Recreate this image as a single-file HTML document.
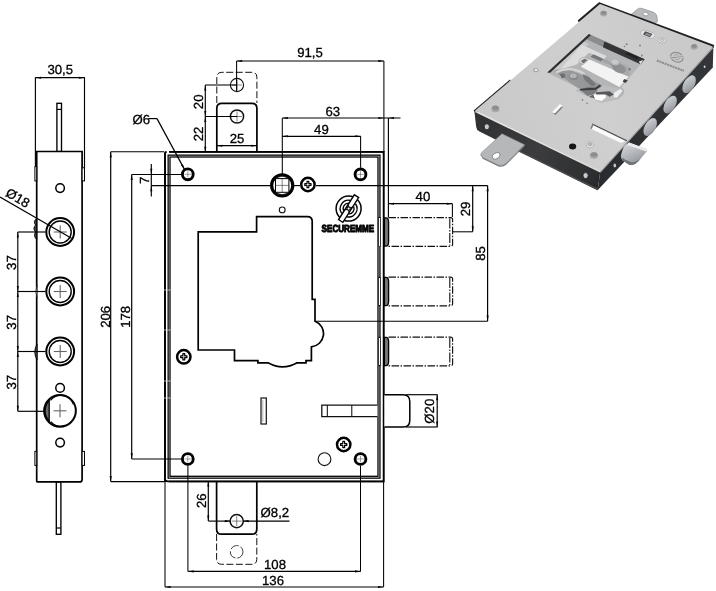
<!DOCTYPE html>
<html><head><meta charset="utf-8"><title>Lock drawing</title>
<style>
html,body{margin:0;padding:0;background:#fff;}
body{width:716px;height:591px;overflow:hidden;font-family:"Liberation Sans",sans-serif;}
svg{display:block;}
</style></head><body>
<svg width="716" height="591" viewBox="0 0 716 591" style="opacity:0.999;will-change:transform" text-rendering="geometricPrecision">
<rect width="716" height="591" fill="#fff"/>
<defs>
<linearGradient id="gTop" x1="476" y1="110" x2="713" y2="46" gradientUnits="userSpaceOnUse">
<stop offset="0" stop-color="#c9c9c9"/><stop offset="0.5" stop-color="#cfcfcf"/><stop offset="1" stop-color="#c8c8c8"/>
</linearGradient>
<linearGradient id="gLeft" x1="476" y1="120" x2="600" y2="182" gradientUnits="userSpaceOnUse">
<stop offset="0" stop-color="#303133"/><stop offset="0.5" stop-color="#3b3c3e"/><stop offset="1" stop-color="#2a2b2d"/>
</linearGradient>
<linearGradient id="gRight" x1="600" y1="182" x2="712" y2="58" gradientUnits="userSpaceOnUse">
<stop offset="0" stop-color="#2a2c2f"/><stop offset="1" stop-color="#34363a"/>
</linearGradient>
<linearGradient id="gBolt" x1="0" y1="0" x2="1" y2="1">
<stop offset="0" stop-color="#d4d6d9"/><stop offset="0.6" stop-color="#a9acb1"/><stop offset="1" stop-color="#7f8288"/>
</linearGradient>
<linearGradient id="gLatch" x1="626" y1="140" x2="640" y2="168" gradientUnits="userSpaceOnUse">
<stop offset="0" stop-color="#dcdde0"/><stop offset="0.4" stop-color="#b9bcc0"/><stop offset="1" stop-color="#85888d"/>
</linearGradient>
<filter id="soft" x="-5%" y="-5%" width="110%" height="110%"><feGaussianBlur stdDeviation="0.45"/></filter>
<filter id="soft2" x="-5%" y="-5%" width="110%" height="110%"><feGaussianBlur stdDeviation="0.7"/></filter>
</defs>
<g id="r3d" filter="url(#soft)">
<!-- back tab -->
<path d="M631,14.5 L637.5,9.2 Q639.5,7.6 642,8.4 L653.5,12.3 Q656,13.3 656.8,16 L657.5,21.5 L655,23.5 Z" fill="#b9babc" stroke="#8b8d90" stroke-width="0.7"/>
<ellipse cx="645.6" cy="14" rx="2.7" ry="1.8" fill="#fff" stroke="#77797c" stroke-width="0.6" transform="rotate(18 645.6 14)"/>
<!-- left (front-left) dark face -->
<path d="M474.3,110.8 L600.3,171.6 L597.6,190.3 L479.5,131.5 Q476.5,130 476.2,127 Z" fill="url(#gLeft)"/>
<path d="M500,141 L597.9,188.4 L597.6,190.3 L500,142.6 Z" fill="#4a4b4d"/>
<!-- right dark face -->
<path d="M600.3,171.6 L713.4,46.2 L712.8,67.5 L597.6,190.3 Z" fill="url(#gRight)"/>
<!-- left tab -->
<path d="M502,133.8 L524.6,144.8 L505.8,163.6 Q502.3,166.6 498,164.8 L483,157.6 Q479.3,155.5 481.6,152.6 Z" fill="#b6b7b9" stroke="#909295" stroke-width="0.6"/>
<path d="M481,154 L482.6,158.8 L498,166.2 Q502.5,168 506.2,164.8 L524.6,146.2 L524.6,144.8 L505.8,163.6 Q502.3,166.6 498,164.8 L483,157.6 Z" fill="#7b7d80"/>
<ellipse cx="496" cy="155.8" rx="4.2" ry="2.8" fill="#fff" stroke="#6d6f72" stroke-width="0.7" transform="rotate(-28 496.2 155.6)"/>
<!-- back rim dark (top-right edge) -->
<path d="M599.3,2.2 L714.2,45 L713.4,48 L600,5.6 Z" fill="#1f2022"/>
<!-- upper-left rim dark bits -->
<path d="M473.6,110.6 L510,79.6 L512,82.4 L476.6,113.4 Z" fill="#1f2022"/>
<path d="M577.6,20.6 L599.3,2 L601,5 L579.8,23.6 Z" fill="#1f2022"/>
<!-- top face -->
<path d="M475.2,110.6 L600,4 L712.6,46.6 L600.3,171.2 Z" fill="url(#gTop)"/>
<!-- top face bottom-left edge highlight / rim -->
<path d="M475.2,110.6 L600.3,171.2 L600.1,172.6 L475.4,112.2 Z" fill="#e4e4e4"/>
<path d="M600.3,171.2 L712.6,46.6 L712.8,48.4 L600.5,172.8 Z" fill="#a9aaac"/>

<!-- window cutout -->
<path d="M589.0,34.1 L644.7,59.3 L621.3,87.2 Q627.1,90.9 622.0,96.0 Q619.1,99.2 615.1,99.8 L601.5,102.7 L576.2,90.9 L578.0,87.9 L547.2,72.5 Z" fill="#b4b5b7"/>
<path d="M582.4,41.0 L589.0,43.9 L562.6,68.4 L553.8,69.6 L550.9,71.8 Z" fill="#c9cacb" />
<path d="M581.7,44.7 L606.6,56.1 L603.7,59.3 L589.0,52.7 L576.5,64.5 L567.0,67.4 L561.1,68.4 Z" fill="#dcdcdd" />
<path d="M593.4,54.2 L603.7,59.0 L600.7,61.5 L590.5,56.8 Z" fill="#77787a" />
<path d="M604.4,59.0 L613.9,63.4 L611.7,65.6 L601.5,61.4 Z" fill="#a2a3a5" />
<path d="M589.0,34.1 L644.7,59.3 L640.6,64.3 L603.7,47.3 L584.9,38.5 Z" fill="#8b8c8e" />
<path d="M604.4,41.4 L644.7,59.3 L640.6,64.3 L602.9,47.3 Z" fill="#343537" />
<path d="M627.1,52.0 L638.9,57.3 L637.1,59.3 L625.7,54.1 Z" fill="#222324" />
<path d="M638.9,61.5 L643.5,60.1 L640.3,64.3 Z" fill="#e8e8e8" />
<path d="M589.0,34.1 L590.8,35.3 L550.1,72.8 L547.2,72.5 Z" fill="#2c2d2f" />
<path d="M587.2,58.6 L628.6,76.6 L619.5,86.9 L581.1,66.7 Z" fill="#f3f3f3" />
<path d="M579.9,59.0 Q582.0,56.1 586.8,58.2 L589.0,59.3 L583.4,64.6 L580.2,63.1 Q577.8,61.7 579.9,59.0 Z" fill="#d8d8d9" stroke="#9a9b9d" stroke-width="0.5"/>
<path d="M580.9,61.1 L584.3,58.7 L587.5,60.1 L583.4,63.4 Z" fill="#6f7072" />
<path d="M613.9,67.8 L624.2,63.7 L630.8,68.4 L628.6,76.6 L618.3,72.5 Z" fill="#a9aaac" />
<ellipse cx="619.1" cy="68.4" rx="7.0" ry="4.4" fill="#8f9092" transform="rotate(22 619.1 68.4)"/>
<ellipse cx="615.7" cy="64.0" rx="5.0" ry="3.8" fill="#8d8e90"/>
<ellipse cx="615.4" cy="62.6" rx="4.4" ry="2.9" fill="#b7b8ba"/>
<ellipse cx="615.2" cy="61.8" rx="3.5" ry="2.1" fill="#c9cacb"/>
<path d="M624.2,79.1 L627.9,80.6 L625.4,83.1 L622.7,81.6 Z" fill="#3e3f41" />
<circle cx="629.6" cy="69.3" r="1.1" fill="#6a6b6d"/>
<path d="M553.8,71.1 L567.0,68.4 L579.5,74.0 L593.4,80.6 L602.2,85.7 L599.3,88.7 L578.0,87.9 Z" fill="#97989a" />
<path d="M556.0,72.5 Q569.9,65.2 584.6,74.0" fill="none" stroke="#d4d4d5" stroke-width="2.2"/>
<ellipse cx="573.6" cy="76.6" rx="4.4" ry="3.5" fill="#858688"/>
<ellipse cx="573.3" cy="75.8" rx="3.5" ry="2.5" fill="#b3b4b6"/>
<path d="M582.4,74.0 L589.0,76.9 L596.3,85.0 L591.9,86.5 L584.6,79.9 Z" fill="#77787a" />
<path d="M559.7,74.0 L564.1,73.3 L565.5,76.9 L561.9,78.4 Z" fill="#6c6d6f" />
<path d="M576.2,90.9 L578.0,87.9 L599.3,88.7 L602.9,85.7 L618.3,87.9 L615.1,99.8 L601.5,102.7 Z" fill="#bcbdbf" />
<path d="M579.5,89.4 L589.0,86.5 L597.8,90.1 L593.4,94.5 L587.5,96.0 Z" fill="#7a7b7d" />
<path d="M579.5,88.7 L595.6,87.5 L599.6,84.6 L601.3,85.7 L596.3,89.8 L580.2,90.4 Z" fill="#3c3d3f" />
<path d="M593.4,94.5 L605.1,93.4 L605.9,97.5 L601.5,101.1 L591.6,98.6 Z" fill="#ffffff" />
<path d="M595.6,92.3 L609.5,91.3 L613.9,94.5 L609.5,96.7 L605.9,94.5 L596.3,94.5 Z" fill="#58595b" />
<path d="M613.9,93.1 L620.5,88.7 L622.4,90.9 L616.9,97.8 L613.9,97.2 Z" fill="#efefef" />
<path d="M589.0,96.7 L593.4,94.5 L594.9,98.9 Z" fill="#69696b" />
<!-- square follower hole -->
<g transform="translate(1.6 -8.9)">
<path d="M639,40.6 Q641,38.4 644.5,39.2 L652,42 Q654.5,43.3 653.2,45.6 Q651.5,47.8 648,47.2 L640.5,44.3 Q638,43 639,40.6 Z" fill="#e2e3e5" stroke="#a2a4a7" stroke-width="0.6"/>
<path d="M643.6,40.2 L650.8,43 L648.2,46.2 L641.4,43.4 Z" fill="#4c4d50"/>
<path d="M644.6,41.7 L649.4,43.6 L648,45.2 L643.2,43.4 Z" fill="#8e9093"/>
</g>
<!-- screw near it -->
<ellipse cx="662" cy="40.4" rx="4" ry="2.7" fill="#dcdde0" stroke="#9a9c9f" stroke-width="0.5"/>
<ellipse cx="662" cy="40.2" rx="1.6" ry="1.1" fill="#f6f6f6" stroke="#6a6c6f" stroke-width="0.5"/>
<!-- corner rivets -->
<g fill="#a6a7a9">
<ellipse cx="603.6" cy="13.6" rx="3.6" ry="2.8"/><ellipse cx="694.2" cy="47" rx="3.6" ry="2.8"/>
<ellipse cx="495.4" cy="109" rx="4.1" ry="3.2"/>
<ellipse cx="535.8" cy="70.2" rx="2.8" ry="2.1"/>
</g>
<g fill="#8b8c8e">
<ellipse cx="603.6" cy="12.7" rx="2.7" ry="1.9"/><ellipse cx="694.2" cy="46" rx="2.7" ry="1.9"/>
<ellipse cx="495.4" cy="107.8" rx="3.1" ry="2.2"/>
</g>
<ellipse cx="536" cy="70" rx="1.5" ry="1.1" fill="#f4f4f4"/>
<!-- small dots -->
<g fill="#7d7f82"><circle cx="626.6" cy="44.2" r="1"/><circle cx="640" cy="45.5" r="0.9"/><circle cx="642" cy="55.5" r="0.9"/><circle cx="624.5" cy="46.5" r="0.8"/><circle cx="582.5" cy="99.8" r="0.9"/><circle cx="587" cy="103.3" r="0.8"/></g>

<!-- logo on plate -->
<g transform="translate(676.8 57.2) rotate(21)"><ellipse rx="6.4" ry="4.6" fill="none" stroke="#8f9092" stroke-width="1.3"/><ellipse rx="3.4" ry="2.3" fill="none" stroke="#9a9b9d" stroke-width="0.8"/><line x1="-6.6" y1="3.2" x2="6.6" y2="-3.2" stroke="#cbcbcb" stroke-width="2.6"/><line x1="-6" y1="2.9" x2="6" y2="-2.9" stroke="#8f9092" stroke-width="0.9"/></g>
<line x1="656.8" y1="60.4" x2="684" y2="70.8" stroke="#8f9092" stroke-width="2.1" stroke-dasharray="2.2 0.6"/>
<!-- little slot pin -->
<path d="M553.2,113.6 L560.6,106 L562.8,107.2 L555.4,115 Z" fill="#7d7e80"/>
<path d="M552.2,112 L559.8,104.2 L562.4,105.6 L554.8,113.6 Z" fill="#fbfbfb"/>
<!-- bolt slot -->
<path d="M592.5,123.5 L627.2,140.2 L621,143 L590.2,128.6 Z" fill="#fafafa"/>
<path d="M592.5,123.5 L627.2,140.2 L626.4,141.2 L591.8,124.6 Z" fill="#4a4c4f"/>
<path d="M590.2,128.6 L592.5,123.5 L593.8,124.1 L591.8,128.9 Z" fill="#77797c"/>
<!-- black hole -->
<ellipse cx="572.6" cy="146.4" rx="3.6" ry="3" fill="#141516"/>
<!-- screws -->
<ellipse cx="590" cy="144.8" rx="3.8" ry="3.2" fill="#dfe0e2" stroke="#a0a2a5" stroke-width="0.6"/>
<ellipse cx="590" cy="144.3" rx="1.8" ry="1.4" fill="#bbbdc0" stroke="#85878a" stroke-width="0.5"/>
<ellipse cx="594" cy="155.6" rx="4.2" ry="3.3" fill="#a6a7a9"/>
<ellipse cx="594" cy="154.5" rx="3.1" ry="2.2" fill="#8b8c8e"/>

<!-- holes in dark faces -->
<ellipse cx="486.8" cy="126.8" rx="2.6" ry="3" fill="#c9cacc" stroke="#1c1d1f" stroke-width="0.8"/>
<ellipse cx="585.6" cy="175.6" rx="2.6" ry="3" fill="#c9cacc" stroke="#1c1d1f" stroke-width="0.8"/>
<ellipse cx="614.8" cy="165.4" rx="1.3" ry="2" fill="#c5c6c8"/>
<ellipse cx="704.6" cy="66.8" rx="0.9" ry="1.2" fill="#d5d6d8"/>

<!-- bolts -->
<g>
<ellipse cx="689.1" cy="84.3" rx="5.4" ry="9.8" transform="rotate(30 689.1 84.3)" fill="url(#gBolt)"/>
<ellipse cx="670.1" cy="104.6" rx="5.4" ry="9.8" transform="rotate(30 670.1 104.6)" fill="url(#gBolt)"/>
<ellipse cx="650.2" cy="127" rx="5.4" ry="9.8" transform="rotate(30 650.2 127)" fill="url(#gBolt)"/>
</g>
<!-- latch -->
<path d="M622.2,151 Q623,146.8 625.6,144.7 L629.1,142.6 L646.6,148.9 Q647.4,150 646.9,151.2 L638.2,161.6 Q635.5,164.4 632.4,165 Q630,165.3 628.2,164.2 L622.4,160.2 Q620.6,158 621,155 Z" fill="url(#gLatch)"/>
<path d="M629.1,142.6 L646.6,148.9 Q647.4,150 646.4,151.6 L627,145 Z" fill="#ebecee"/>
<path d="M622.4,160.2 L628.2,164.2 Q630,165.3 632.4,165 Q635.5,164.4 638.2,161.6 L641,158.2 Q636,162.6 631.5,162.2 Q626,161 622,157.5 Z" fill="#707276"/>
</g>

<rect x="56.9" y="103.3" width="4.6" height="48.2" fill="#fff" stroke="#000" stroke-width="1.35"/>
<line x1="56.9" y1="109.4" x2="61.5" y2="109.4" stroke="#000" stroke-width="1.2" />
<rect x="56.3" y="481.9" width="4.6" height="52.4" fill="#fff" stroke="#000" stroke-width="1.35"/>
<line x1="56.3" y1="528" x2="60.9" y2="528" stroke="#000" stroke-width="1.2" />
<path d="M36.7,151.5 H82.1 V479.4 Q82.1,481.9 79.6,481.9 H37.7 Q36.7,481.9 36.7,480.9 Z" fill="#fff" stroke="#000" stroke-width="1.7"/>
<rect x="34.9" y="166.6" width="1.8" height="14.300000000000011" fill="#fff" stroke="#000" stroke-width="1"/>
<rect x="34.9" y="451.4" width="1.8" height="14.0" fill="#fff" stroke="#000" stroke-width="1"/>
<rect x="82.1" y="167.8" width="2.4" height="13.099999999999994" fill="#fff" stroke="#000" stroke-width="1"/>
<rect x="82.1" y="451.4" width="2.4" height="14.0" fill="#fff" stroke="#000" stroke-width="1"/>
<circle cx="60.1" cy="188.1" r="4.3" fill="none" stroke="#000" stroke-width="1.5" />
<circle cx="60.1" cy="387.9" r="4.3" fill="none" stroke="#000" stroke-width="1.5" />
<circle cx="60.1" cy="442.6" r="4.3" fill="none" stroke="#000" stroke-width="1.5" />
<circle cx="60.2" cy="232" r="13.9" fill="none" stroke="#000" stroke-width="2.0" />
<circle cx="60.2" cy="232" r="11.0" fill="none" stroke="#000" stroke-width="1.4" />
<line x1="53.7" y1="232" x2="66.7" y2="232" stroke="#666" stroke-width="1.1" />
<line x1="60.2" y1="225.5" x2="60.2" y2="238.5" stroke="#666" stroke-width="1.1" />
<circle cx="60.2" cy="291.5" r="13.9" fill="none" stroke="#000" stroke-width="2.0" />
<circle cx="60.2" cy="291.5" r="11.0" fill="none" stroke="#000" stroke-width="1.4" />
<line x1="53.7" y1="291.5" x2="66.7" y2="291.5" stroke="#666" stroke-width="1.1" />
<line x1="60.2" y1="285.0" x2="60.2" y2="298.0" stroke="#666" stroke-width="1.1" />
<circle cx="60.2" cy="351.5" r="13.9" fill="none" stroke="#000" stroke-width="2.0" />
<circle cx="60.2" cy="351.5" r="11.0" fill="none" stroke="#000" stroke-width="1.4" />
<line x1="53.7" y1="351.5" x2="66.7" y2="351.5" stroke="#666" stroke-width="1.1" />
<line x1="60.2" y1="345.0" x2="60.2" y2="358.0" stroke="#666" stroke-width="1.1" />
<circle cx="60" cy="410.8" r="15.85" fill="none" stroke="#000" stroke-width="2.0" />
<path d="M49.2,400.2 V421.4 A15.85,15.85 0 0 1 49.2,400.2 Z" fill="#6a6a6a" stroke="#000" stroke-width="1.3" stroke-linejoin="round"/>
<path d="M50.5,400.4 A13.4,13.4 0 0 1 73.5,404.5" fill="none" stroke="#000" stroke-width="1.1"/>
<path d="M50.8,421.6 A13.6,13.6 0 0 0 65,425.6" fill="none" stroke="#000" stroke-width="1.1"/>
<line x1="53.5" y1="410.8" x2="66.5" y2="410.8" stroke="#666" stroke-width="1.1" />
<line x1="60" y1="404.3" x2="60" y2="417.3" stroke="#666" stroke-width="1.1" />
<path d="M36.7,218.5 Q32.6,221.5 35.6,225 Q32.2,228.5 35.6,232 Q33,236 36.7,239.5 Z" fill="#444" stroke="#000" stroke-width="0.9"/>
<path d="M37,344 Q32.5,352 37,360 Z" fill="#555" stroke="#000" stroke-width="0.9"/>
<path d="M37,285 Q35,291.5 37,298" fill="#fff" stroke="#000" stroke-width="0.8"/>
<line x1="35.4" y1="77.2" x2="35.4" y2="166.6" stroke="#000" stroke-width="1.15" />
<line x1="84.5" y1="77.2" x2="84.5" y2="167.8" stroke="#000" stroke-width="1.15" />
<line x1="35.4" y1="77.7" x2="84.5" y2="77.7" stroke="#000" stroke-width="1.2" />
<polygon points="35.40,77.70 41.00,76.65 41.00,78.75" fill="#000"/>
<polygon points="84.50,77.70 78.90,78.75 78.90,76.65" fill="#000"/>
<text x="60.3" y="74" font-family="Liberation Sans, sans-serif" font-size="13.2" text-anchor="middle" font-weight="normal" fill="#000" stroke="#000" stroke-width="0.3" >30,5</text>
<line x1="17.8" y1="232" x2="17.8" y2="411.3" stroke="#000" stroke-width="1.15" />
<line x1="17.8" y1="232" x2="45.4" y2="232" stroke="#000" stroke-width="1.15" />
<line x1="17.8" y1="291.5" x2="45.4" y2="291.5" stroke="#000" stroke-width="1.15" />
<line x1="17.8" y1="351.5" x2="45.4" y2="351.5" stroke="#000" stroke-width="1.15" />
<line x1="17.8" y1="411.3" x2="44" y2="411.3" stroke="#000" stroke-width="1.15" />
<polygon points="17.80,232.00 18.85,237.60 16.75,237.60" fill="#000"/>
<polygon points="17.80,291.50 16.75,285.90 18.85,285.90" fill="#000"/>
<text x="15.6" y="262.55" font-family="Liberation Sans, sans-serif" font-size="13.2" text-anchor="middle" font-weight="normal" fill="#000" stroke="#000" stroke-width="0.3" transform="rotate(-90 15.6 262.55)" >37</text>
<polygon points="17.80,291.50 18.85,297.10 16.75,297.10" fill="#000"/>
<polygon points="17.80,351.50 16.75,345.90 18.85,345.90" fill="#000"/>
<text x="15.6" y="322.3" font-family="Liberation Sans, sans-serif" font-size="13.2" text-anchor="middle" font-weight="normal" fill="#000" stroke="#000" stroke-width="0.3" transform="rotate(-90 15.6 322.3)" >37</text>
<polygon points="17.80,351.50 18.85,357.10 16.75,357.10" fill="#000"/>
<polygon points="17.80,411.30 16.75,405.70 18.85,405.70" fill="#000"/>
<text x="15.6" y="382.2" font-family="Liberation Sans, sans-serif" font-size="13.2" text-anchor="middle" font-weight="normal" fill="#000" stroke="#000" stroke-width="0.3" transform="rotate(-90 15.6 382.2)" >37</text>
<line x1="0" y1="197.1" x2="71.5" y2="238.3" stroke="#000" stroke-width="1.15" />
<text x="4.8" y="195.6" font-family="Liberation Sans, sans-serif" font-size="13.2" fill="#000" stroke="#000" stroke-width="0.3" transform="rotate(30.0 4.8 195.6)">Ø18</text>
<path d="M216.8,103 V77.3 Q216.8,72.3 221.8,72.3 H251.9 Q256.9,72.3 256.9,77.3 V103" fill="none" stroke="#111" stroke-width="1" stroke-dasharray="7 2.5"/>
<circle cx="237" cy="85" r="6.6" fill="none" stroke="#111" stroke-width="1.1" />
<line x1="232" y1="85" x2="242" y2="85" stroke="#333" stroke-width="0.6" />
<line x1="237" y1="80" x2="237" y2="90" stroke="#333" stroke-width="0.6" />
<path d="M216.8,152.3 V108.3 Q216.8,103.3 221.8,103.3 H251.9 Q256.9,103.3 256.9,108.3 V152.3" fill="#fff" stroke="#000" stroke-width="1.7"/>
<circle cx="237" cy="116.5" r="6.6" fill="none" stroke="#111" stroke-width="1.5" />
<line x1="232" y1="116.5" x2="242" y2="116.5" stroke="#333" stroke-width="0.6" />
<line x1="237" y1="111.5" x2="237" y2="121.5" stroke="#333" stroke-width="0.6" />
<path d="M216.6,534 V559.3 Q216.6,564.3 221.6,564.3 H251.8 Q256.8,564.3 256.8,559.3 V534" fill="none" stroke="#111" stroke-width="1" stroke-dasharray="7 2.5"/>
<circle cx="236.7" cy="551.8" r="6.3" fill="none" stroke="#111" stroke-width="0.8" stroke-dasharray="9 2"/>
<path d="M216.6,481 V529.2 Q216.6,534.2 221.6,534.2 H251.8 Q256.8,534.2 256.8,529.2 V481" fill="#fff" stroke="#000" stroke-width="1.7"/>
<circle cx="236.7" cy="521.1" r="6.6" fill="none" stroke="#111" stroke-width="1.5" />
<line x1="231.7" y1="521.1" x2="241.7" y2="521.1" stroke="#333" stroke-width="0.6" />
<line x1="236.7" y1="516.1" x2="236.7" y2="526.1" stroke="#333" stroke-width="0.6" />
<line x1="388.4" y1="118" x2="388.4" y2="217.6" stroke="#000" stroke-width="1.15" />
<path d="M165,481.6 V153.6 Q165,152.2 166.6,151.9 M169.2,151.9 H383.6 V481.3 H169.2 M166.6,481.3 Q165,481.3 165,480" fill="none" stroke="#000" stroke-width="1.7"/>
<rect x="166" y="152.8" width="217" height="327.8" fill="#fff" stroke="none"/>
<path d="M165,481.9 V153.4 Q165,152.4 166.4,152 M169.2,151.9 H383.6 V481.3 H168.6 Q165.4,481.6 165,479.5" fill="none" stroke="#000" stroke-width="1.7"/>
<rect x="168.15" y="155.15" width="211.8" height="323" fill="none" stroke="#000" stroke-width="1.3"/>
<rect x="170" y="157" width="208" height="319.3" fill="none" stroke="#000" stroke-width="1.3"/>
<line x1="164" y1="290" x2="171.5" y2="290" stroke="#ddd" stroke-width="0.7" />
<line x1="164" y1="381" x2="171.5" y2="381" stroke="#ddd" stroke-width="0.7" />
<line x1="164" y1="398" x2="171.5" y2="398" stroke="#ddd" stroke-width="0.7" />
<line x1="164" y1="330" x2="171.5" y2="330" stroke="#ddd" stroke-width="0.7" />
<path d="M388.5,217.6 H450.6 Q452.6,217.6 452.6,219.6 V244.3 Q452.6,246.3 450.6,246.3 H388.5" fill="#fff" stroke="#111" stroke-width="1.15" stroke-dasharray="7.5 1.5 1.5 1.5"/>
<line x1="449.8" y1="218.4" x2="449.8" y2="245.5" stroke="#111" stroke-width="1.1" stroke-dasharray="10 1.5 1.5 1.5"/>
<path d="M384.4,217.79999999999998 H386 Q388.6,217.79999999999998 388.6,222.1 V241.8 Q388.6,246.10000000000002 386,246.10000000000002 H384.4 Z" fill="#777" stroke="#000" stroke-width="1.3"/>
<rect x="378.7" y="217.6" width="1.6" height="28.700000000000017" fill="#fff" stroke="#000" stroke-width="0.6"/>
<path d="M388.5,277.1 H450.6 Q452.6,277.1 452.6,279.1 V303.8 Q452.6,305.8 450.6,305.8 H388.5" fill="#fff" stroke="#111" stroke-width="1.15" stroke-dasharray="7.5 1.5 1.5 1.5"/>
<line x1="449.8" y1="277.90000000000003" x2="449.8" y2="305.0" stroke="#111" stroke-width="1.1" stroke-dasharray="10 1.5 1.5 1.5"/>
<path d="M384.4,277.3 H386 Q388.6,277.3 388.6,281.6 V301.3 Q388.6,305.6 386,305.6 H384.4 Z" fill="#777" stroke="#000" stroke-width="1.3"/>
<rect x="378.7" y="277.1" width="1.6" height="28.69999999999999" fill="#fff" stroke="#000" stroke-width="0.6"/>
<path d="M388.5,337.1 H450.6 Q452.6,337.1 452.6,339.1 V363.8 Q452.6,365.8 450.6,365.8 H388.5" fill="#fff" stroke="#111" stroke-width="1.15" stroke-dasharray="7.5 1.5 1.5 1.5"/>
<line x1="449.8" y1="337.90000000000003" x2="449.8" y2="365.0" stroke="#111" stroke-width="1.1" stroke-dasharray="10 1.5 1.5 1.5"/>
<path d="M384.4,337.3 H386 Q388.6,337.3 388.6,341.6 V361.3 Q388.6,365.6 386,365.6 H384.4 Z" fill="#777" stroke="#000" stroke-width="1.3"/>
<rect x="378.7" y="337.1" width="1.6" height="28.69999999999999" fill="#fff" stroke="#000" stroke-width="0.6"/>
<path d="M384.4,394.7 H403.2 Q409.8,394.7 409.8,401.5 V420.2 Q409.8,427 403.2,427 H384.4" fill="#fff" stroke="#000" stroke-width="1.5"/>
<line x1="406" y1="394.7" x2="437.6" y2="394.7" stroke="#000" stroke-width="1.15" />
<line x1="406" y1="427" x2="437.6" y2="427" stroke="#000" stroke-width="1.15" />
<line x1="437.2" y1="394.7" x2="437.2" y2="427" stroke="#000" stroke-width="1.2" />
<polygon points="437.20,394.70 438.25,400.30 436.15,400.30" fill="#000"/>
<polygon points="437.20,427.00 436.15,421.40 438.25,421.40" fill="#000"/>
<text x="434.4" y="411.2" font-family="Liberation Sans, sans-serif" font-size="13.2" text-anchor="middle" font-weight="normal" fill="#000" stroke="#000" stroke-width="0.3" transform="rotate(-90 434.4 411.2)" >Ø20</text>
<path d="M198.2,231.9 H256.6 V216.6 H307.5 Q312.2,216.6 312.2,221.3 V299.3 H315 V321.3 A13.2,13.2 0 0 1 311.4,346.8 V360.6 H306 V362.8 H297.2 Q282.5,371 268,362.8 H257.9 V360.6 H234.5 V350 H198.2 Z" fill="#fff" stroke="#000" stroke-width="1.7" stroke-linejoin="miter"/>
<line x1="315" y1="321.2" x2="487.6" y2="321.2" stroke="#000" stroke-width="1.15" />
<circle cx="187.8" cy="174.3" r="5.4" fill="#fff" stroke="#000" stroke-width="2.9" />
<line x1="184.60000000000002" y1="174.3" x2="191.0" y2="174.3" stroke="#444" stroke-width="0.5" />
<line x1="187.8" y1="171.10000000000002" x2="187.8" y2="177.5" stroke="#444" stroke-width="0.5" />
<circle cx="360.5" cy="174.4" r="5.4" fill="#fff" stroke="#000" stroke-width="2.9" />
<line x1="357.3" y1="174.4" x2="363.7" y2="174.4" stroke="#444" stroke-width="0.5" />
<line x1="360.5" y1="171.20000000000002" x2="360.5" y2="177.6" stroke="#444" stroke-width="0.5" />
<circle cx="187.8" cy="459" r="5.4" fill="#fff" stroke="#000" stroke-width="2.9" />
<line x1="184.60000000000002" y1="459" x2="191.0" y2="459" stroke="#444" stroke-width="0.5" />
<line x1="187.8" y1="455.8" x2="187.8" y2="462.2" stroke="#444" stroke-width="0.5" />
<circle cx="360.5" cy="459" r="5.4" fill="#fff" stroke="#000" stroke-width="2.9" />
<line x1="357.3" y1="459" x2="363.7" y2="459" stroke="#444" stroke-width="0.5" />
<line x1="360.5" y1="455.8" x2="360.5" y2="462.2" stroke="#444" stroke-width="0.5" />
<circle cx="282.2" cy="185.4" r="10.55" fill="#fff" stroke="#000" stroke-width="3.2" />
<rect x="275.5" y="178.6" width="13.4" height="13.7" fill="#fff" stroke="#000" stroke-width="1.0"/>
<line x1="282.2" y1="178.6" x2="282.2" y2="192.3" stroke="#333" stroke-width="0.6" />
<line x1="275.5" y1="185.4" x2="288.9" y2="185.4" stroke="#333" stroke-width="0.6" />
<path d="M276.5,177.6 Q282.2,174.6 287.9,177.6 M276.5,193.2 Q282.2,196.2 287.9,193.2" fill="none" stroke="#333" stroke-width="0.6"/>
<circle cx="307.9" cy="184.5" r="6.7" fill="#fff" stroke="#000" stroke-width="2.5" />
<path d="M307.0,181.4 h1.8 v2.2 h2.2 v1.8 h-2.2 v2.2 h-1.8 v-2.2 h-2.2 v-1.8 h2.2 z" fill="#fff" stroke="#000" stroke-width="1.2" stroke-linejoin="round"/>
<circle cx="183.8" cy="356.8" r="6.7" fill="#fff" stroke="#000" stroke-width="2.5" />
<path d="M182.9,353.7 h1.8 v2.2 h2.2 v1.8 h-2.2 v2.2 h-1.8 v-2.2 h-2.2 v-1.8 h2.2 z" fill="#fff" stroke="#000" stroke-width="1.2" stroke-linejoin="round"/>
<circle cx="343.7" cy="444.5" r="6.7" fill="#fff" stroke="#000" stroke-width="2.5" />
<path d="M342.8,441.4 h1.8 v2.2 h2.2 v1.8 h-2.2 v2.2 h-1.8 v-2.2 h-2.2 v-1.8 h2.2 z" fill="#fff" stroke="#000" stroke-width="1.2" stroke-linejoin="round"/>
<circle cx="282.2" cy="209.9" r="2.9" fill="none" stroke="#111" stroke-width="1.1" />
<circle cx="324.5" cy="459.2" r="6.4" fill="none" stroke="#111" stroke-width="1.1" />
<rect x="261" y="398" width="5.3" height="26" fill="#fff" stroke="#111" stroke-width="1.2"/>
<line x1="262.8" y1="400" x2="262.8" y2="422" stroke="#666" stroke-width="0.5" />
<path d="M377.4,405.2 H321.8 V416.6 H377.4" fill="#fff" stroke="#111" stroke-width="1.3"/>
<line x1="327.3" y1="405.2" x2="327.3" y2="416.6" stroke="#000" stroke-width="1" />
<line x1="351.8" y1="405.2" x2="351.8" y2="416.6" stroke="#000" stroke-width="1" />
<g transform="translate(348.6 208.6)"><circle r="12.5" fill="#fff" stroke="#000" stroke-width="1.5"/><path d="M1.65,-8.24 A8.4,8.4 0 0 0 -6.86,4.85 M-1.65,8.24 A8.4,8.4 0 0 0 6.86,-4.85" fill="none" stroke="#000" stroke-width="1.35"/><path d="M-0.12,-5.5 A5.5,5.5 0 0 0 -5.07,2.12 M0.12,5.5 A5.5,5.5 0 0 0 5.07,-2.12" fill="none" stroke="#000" stroke-width="1.35"/><g transform="rotate(-57.5)"><rect x="-14.7" y="-2.55" width="29.4" height="5.1" fill="#fff" stroke="#000" stroke-width="1.4"/><path d="M-3.2,-2.55 L-1.6,-0.9 M-3.2,2.55 L-1.6,0.9 M3.2,-2.55 L1.6,-0.9 M3.2,2.55 L1.6,0.9" stroke="#000" stroke-width="0.9"/></g><circle r="1.7" fill="#fff" stroke="#000" stroke-width="1.1"/></g>
<text x="321.6" y="232.4" font-family="Liberation Sans, sans-serif" font-size="10.3" font-weight="bold" fill="#000" stroke="#000" stroke-width="1.0" stroke-linejoin="round" textLength="52.6" lengthAdjust="spacingAndGlyphs">SECUREMME</text>
<line x1="110.7" y1="151.8" x2="164.2" y2="151.8" stroke="#000" stroke-width="1.0499999999999998" />
<line x1="110.7" y1="481.6" x2="164.2" y2="481.6" stroke="#000" stroke-width="1.0499999999999998" />
<line x1="110.7" y1="151.8" x2="110.7" y2="481.6" stroke="#000" stroke-width="1.2" />
<polygon points="110.70,151.80 111.75,157.40 109.65,157.40" fill="#000"/>
<polygon points="110.70,481.60 109.65,476.00 111.75,476.00" fill="#000"/>
<text x="109.6" y="316.8" font-family="Liberation Sans, sans-serif" font-size="13.2" text-anchor="middle" font-weight="normal" fill="#000" stroke="#000" stroke-width="0.3" transform="rotate(-90 109.6 316.8)" >206</text>
<line x1="131.7" y1="174.4" x2="181" y2="174.4" stroke="#000" stroke-width="1.0499999999999998" />
<line x1="131.7" y1="458.9" x2="181" y2="458.9" stroke="#000" stroke-width="1.0499999999999998" />
<line x1="131.7" y1="174.4" x2="131.7" y2="458.9" stroke="#000" stroke-width="1.2" />
<polygon points="131.70,174.40 132.75,180.00 130.65,180.00" fill="#000"/>
<polygon points="131.70,458.90 130.65,453.30 132.75,453.30" fill="#000"/>
<text x="130.5" y="316.8" font-family="Liberation Sans, sans-serif" font-size="13.2" text-anchor="middle" font-weight="normal" fill="#000" stroke="#000" stroke-width="0.3" transform="rotate(-90 130.5 316.8)" >178</text>
<line x1="151.3" y1="163.9" x2="151.3" y2="196.4" stroke="#000" stroke-width="1.15" />
<polygon points="151.30,174.40 150.25,168.80 152.35,168.80" fill="#000"/>
<polygon points="151.30,185.60 152.35,191.20 150.25,191.20" fill="#000"/>
<line x1="151.3" y1="185.6" x2="270.5" y2="185.6" stroke="#000" stroke-width="1.15" />
<line x1="294" y1="185.6" x2="300" y2="185.6" stroke="#000" stroke-width="1.15" />
<line x1="315.8" y1="185.6" x2="487.6" y2="185.6" stroke="#000" stroke-width="1.15" />
<text x="149" y="180.3" font-family="Liberation Sans, sans-serif" font-size="13.2" text-anchor="middle" font-weight="normal" fill="#000" stroke="#000" stroke-width="0.3" transform="rotate(-90 149 180.3)" >7</text>
<text x="132.5" y="123.8" font-family="Liberation Sans, sans-serif" font-size="13.2" text-anchor="start" font-weight="normal" fill="#000" stroke="#000" stroke-width="0.3" >Ø6</text>
<line x1="148.5" y1="118.6" x2="157" y2="118.6" stroke="#000" stroke-width="1.2" />
<line x1="157" y1="118.6" x2="184.6" y2="169.6" stroke="#000" stroke-width="1.2" />
<polygon points="184.60,169.60 181.01,165.17 182.86,164.18" fill="#000"/>
<line x1="205.3" y1="85" x2="237" y2="85" stroke="#000" stroke-width="1.0499999999999998" />
<line x1="205.3" y1="116.5" x2="237" y2="116.5" stroke="#000" stroke-width="1.0499999999999998" />
<line x1="205.3" y1="85" x2="205.3" y2="152.3" stroke="#000" stroke-width="1.15" />
<polygon points="205.30,85.00 206.35,90.60 204.25,90.60" fill="#000"/>
<polygon points="205.30,116.50 204.25,110.90 206.35,110.90" fill="#000"/>
<polygon points="205.30,116.50 206.35,122.10 204.25,122.10" fill="#000"/>
<polygon points="205.30,152.30 204.25,146.70 206.35,146.70" fill="#000"/>
<text x="203.4" y="101.8" font-family="Liberation Sans, sans-serif" font-size="13.2" text-anchor="middle" font-weight="normal" fill="#000" stroke="#000" stroke-width="0.3" transform="rotate(-90 203.4 101.8)" >20</text>
<text x="203.4" y="134" font-family="Liberation Sans, sans-serif" font-size="13.2" text-anchor="middle" font-weight="normal" fill="#000" stroke="#000" stroke-width="0.3" transform="rotate(-90 203.4 134)" >22</text>
<line x1="216.8" y1="145.7" x2="256.9" y2="145.7" stroke="#000" stroke-width="1.2" />
<polygon points="216.80,145.70 222.40,144.65 222.40,146.75" fill="#000"/>
<polygon points="256.90,145.70 251.30,146.75 251.30,144.65" fill="#000"/>
<text x="237" y="143.3" font-family="Liberation Sans, sans-serif" font-size="13.2" text-anchor="middle" font-weight="normal" fill="#000" stroke="#000" stroke-width="0.3" >25</text>
<line x1="236.6" y1="61" x2="236.6" y2="91" stroke="#000" stroke-width="1.0499999999999998" />
<line x1="383.9" y1="61" x2="383.9" y2="152" stroke="#000" stroke-width="1.0499999999999998" />
<line x1="236.6" y1="61" x2="383.9" y2="61" stroke="#000" stroke-width="1.2" />
<polygon points="236.60,61.00 242.20,59.95 242.20,62.05" fill="#000"/>
<polygon points="383.90,61.00 378.30,62.05 378.30,59.95" fill="#000"/>
<text x="310" y="56.5" font-family="Liberation Sans, sans-serif" font-size="13.2" text-anchor="middle" font-weight="normal" fill="#000" stroke="#000" stroke-width="0.3" >91,5</text>
<line x1="282.3" y1="118" x2="282.3" y2="174" stroke="#000" stroke-width="1.0499999999999998" />
<line x1="282.3" y1="118" x2="400.5" y2="118" stroke="#000" stroke-width="1.15" />
<polygon points="282.30,118.00 287.90,116.95 287.90,119.05" fill="#000"/>
<polygon points="383.90,118.00 378.30,119.05 378.30,116.95" fill="#000"/>
<polygon points="388.40,118.00 394.00,116.95 394.00,119.05" fill="#000"/>
<text x="332.8" y="115.6" font-family="Liberation Sans, sans-serif" font-size="13.2" text-anchor="middle" font-weight="normal" fill="#000" stroke="#000" stroke-width="0.3" >63</text>
<line x1="360.6" y1="136.3" x2="360.6" y2="167.8" stroke="#000" stroke-width="1.0499999999999998" />
<line x1="282.3" y1="136.3" x2="360.8" y2="136.3" stroke="#000" stroke-width="1.2" />
<polygon points="282.30,136.30 287.90,135.25 287.90,137.35" fill="#000"/>
<polygon points="360.80,136.30 355.20,137.35 355.20,135.25" fill="#000"/>
<text x="321.4" y="133.9" font-family="Liberation Sans, sans-serif" font-size="13.2" text-anchor="middle" font-weight="normal" fill="#000" stroke="#000" stroke-width="0.3" >49</text>
<line x1="452.4" y1="203.7" x2="452.4" y2="217" stroke="#000" stroke-width="1.0499999999999998" />
<line x1="388.4" y1="203.7" x2="452.4" y2="203.7" stroke="#000" stroke-width="1.2" />
<polygon points="388.40,203.70 394.00,202.65 394.00,204.75" fill="#000"/>
<polygon points="452.40,203.70 446.80,204.75 446.80,202.65" fill="#000"/>
<text x="422.9" y="201.3" font-family="Liberation Sans, sans-serif" font-size="13.2" text-anchor="middle" font-weight="normal" fill="#000" stroke="#000" stroke-width="0.3" >40</text>
<line x1="453" y1="231.8" x2="472.7" y2="231.8" stroke="#000" stroke-width="1.0499999999999998" />
<line x1="472.7" y1="185.6" x2="472.7" y2="231.8" stroke="#000" stroke-width="1.2" />
<polygon points="472.70,185.60 473.75,191.20 471.65,191.20" fill="#000"/>
<polygon points="472.70,231.80 471.65,226.20 473.75,226.20" fill="#000"/>
<text x="470.2" y="208.9" font-family="Liberation Sans, sans-serif" font-size="13.2" text-anchor="middle" font-weight="normal" fill="#000" stroke="#000" stroke-width="0.3" transform="rotate(-90 470.2 208.9)" >29</text>
<line x1="487.6" y1="185.6" x2="487.6" y2="321.2" stroke="#000" stroke-width="1.2" />
<polygon points="487.60,185.60 488.65,191.20 486.55,191.20" fill="#000"/>
<polygon points="487.60,321.20 486.55,315.60 488.65,315.60" fill="#000"/>
<text x="485.2" y="253.5" font-family="Liberation Sans, sans-serif" font-size="13.2" text-anchor="middle" font-weight="normal" fill="#000" stroke="#000" stroke-width="0.3" transform="rotate(-90 485.2 253.5)" >85</text>
<line x1="208.3" y1="481" x2="208.3" y2="521.1" stroke="#000" stroke-width="1.2" />
<polygon points="208.30,481.00 209.35,486.60 207.25,486.60" fill="#000"/>
<polygon points="208.30,521.10 207.25,515.50 209.35,515.50" fill="#000"/>
<line x1="208.3" y1="521.1" x2="230.4" y2="521.1" stroke="#000" stroke-width="1.15" />
<polygon points="230.40,521.10 224.80,522.15 224.80,520.05" fill="#000"/>
<line x1="243" y1="521.1" x2="289.5" y2="521.1" stroke="#000" stroke-width="1.15" />
<polygon points="243.00,521.10 248.60,520.05 248.60,522.15" fill="#000"/>
<text x="206.4" y="500.7" font-family="Liberation Sans, sans-serif" font-size="13.2" text-anchor="middle" font-weight="normal" fill="#000" stroke="#000" stroke-width="0.3" transform="rotate(-90 206.4 500.7)" >26</text>
<text x="260.6" y="516.8" font-family="Liberation Sans, sans-serif" font-size="13.2" text-anchor="start" font-weight="normal" fill="#000" stroke="#000" stroke-width="0.3" >Ø8,2</text>
<line x1="187.9" y1="465.6" x2="187.9" y2="571.4" stroke="#000" stroke-width="1.0499999999999998" />
<line x1="360.5" y1="465.6" x2="360.5" y2="571.4" stroke="#000" stroke-width="1.0499999999999998" />
<line x1="188.1" y1="571.4" x2="360.6" y2="571.4" stroke="#000" stroke-width="1.2" />
<polygon points="188.10,571.40 193.70,570.35 193.70,572.45" fill="#000"/>
<polygon points="360.60,571.40 355.00,572.45 355.00,570.35" fill="#000"/>
<text x="275" y="569" font-family="Liberation Sans, sans-serif" font-size="13.2" text-anchor="middle" font-weight="normal" fill="#000" stroke="#000" stroke-width="0.3" >108</text>
<line x1="165" y1="481" x2="165" y2="587" stroke="#000" stroke-width="1.0499999999999998" />
<line x1="383.6" y1="481" x2="383.6" y2="587" stroke="#000" stroke-width="1.0499999999999998" />
<line x1="165" y1="587" x2="383.6" y2="587" stroke="#000" stroke-width="1.2" />
<polygon points="165.00,587.00 170.60,585.95 170.60,588.05" fill="#000"/>
<polygon points="383.60,587.00 378.00,588.05 378.00,585.95" fill="#000"/>
<text x="273" y="585" font-family="Liberation Sans, sans-serif" font-size="13.2" text-anchor="middle" font-weight="normal" fill="#000" stroke="#000" stroke-width="0.3" >136</text>
</svg>
</body></html>
